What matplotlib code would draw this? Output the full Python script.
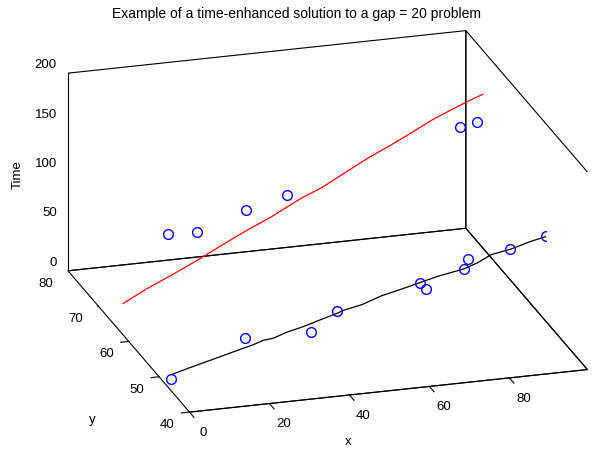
import matplotlib
matplotlib.use('Agg')
import matplotlib.pyplot as plt
from mpl_toolkits.mplot3d import proj3d

plt.rcParams['font.family'] = ['Liberation Sans', 'DejaVu Sans']
plt.rcParams['font.size'] = 9.5

# lower path (black) and its samples, sitting at y = 49
black_x = [2.5, 7.3, 12.0, 18.0, 22.5, 25.5, 27.8, 31.0, 35.5, 39.5, 43.5, 45.5, 50.0,
           55.0, 60.0, 64.8, 69.0, 75.5, 79.0, 82.3, 87.3, 92.0, 99.0]
black_y = [49.2, 49.0, 49.0, 49.1, 49.0, 49.2, 49.0, 49.0, 49.1, 49.0, 49.0, 49.1, 49.0,
           49.2, 49.0, 49.0, 49.1, 49.0, 49.0, 49.1, 49.0, 49.0, 49.0]
black_t = [4.0, 10.2, 15.0, 20.8, 25.8, 28.8, 30.5, 35.0, 38.8, 44.0, 48.6, 50.8, 55.0,
           61.0, 66.5, 71.3, 75.0, 80.1, 85.0, 91.1, 95.1, 100.5, 106.5]
pts_lo_x = [2.3, 20.8, 37.3, 43.8, 64.55, 66.05, 75.55, 76.55, 87.05, 96.05]
pts_lo_y = [49, 49, 49, 49, 49, 49, 49, 49, 49, 49]
pts_lo_t = [0.1, 33.9, 33.0, 51.5, 70.2, 63.5, 80.1, 89.4, 95.2, 104.5]

# time-enhanced path (red) and its samples, sitting at y = 70
red_x = [6.2, 12.0, 18.2, 25.2, 30.5, 36.4, 43.2, 50.7, 56.0, 62.0, 67.4, 73.0, 79.0,
         83.9, 88.0, 92.4, 96.2]
red_y = [70.0, 70.1, 70.0, 70.0, 70.1, 70.0, 70.0, 70.1, 70.0, 70.0, 70.1, 70.0, 70.0,
         70.1, 70.0, 70.0, 70.0]
red_t = [0.0, 11.5, 23.3, 36.5, 47.0, 59.2, 71.5, 86.6, 96.0, 109.0, 120.1, 131.0, 143.0,
         152.6, 160.0, 167.3, 172.8]
pts_hi_x = [17.44, 24.69, 36.94, 47.19, 90.44, 94.69]
pts_hi_y = [70, 70, 70, 70, 70, 70]
pts_hi_t = [65.1, 64.1, 81.2, 92.1, 141.8, 145.1]

xticks = [0, 20, 40, 60, 80]
yticks = [40, 50, 60, 70, 80]
zticks = [0, 50, 100, 150, 200]
XMIN, XMAX, YMIN, YMAX, ZMIN, ZMAX = 0, 99.5, 40, 80, 0, 200

fig = plt.figure(figsize=(5.94, 4.49), dpi=100)
ax = fig.add_axes([0.0414, -0.0065, 1, 1], projection='3d', proj_type='ortho')
ax.view_init(elev=20.65, azim=-106.87)
ax.set_box_aspect((1, 1.007, 0.508), zoom=1.355)

ax.plot(black_x, black_y, black_t, color='k', lw=0.9)
ax.plot(red_x, red_y, red_t, color='r', lw=0.9)
ax.plot(pts_lo_x, pts_lo_y, pts_lo_t, 'o', mfc='none', mec='b', ms=7, mew=1.0)
ax.plot(pts_hi_x, pts_hi_y, pts_hi_t, 'o', mfc='none', mec='b', ms=7, mew=1.0)

ax.set_xlim(XMIN, XMAX)
ax.set_ylim(YMIN, YMAX)
ax.set_zlim(ZMIN, ZMAX)
ax.set_xticks([])
ax.set_yticks([])
ax.set_zticks([])
ax.grid(False)

for axis in (ax.xaxis, ax.yaxis, ax.zaxis):
    axis.pane.fill = False
    axis.pane.set_edgecolor('k')
    axis.pane.set_alpha(1)
    axis.pane.set_linewidth(0.8)
    axis.line.set_color('k')
    axis.line.set_linewidth(0.8)

M = ax.get_proj()


def label_at(x, y, z, s, **kw):
    # project the 3d anchor once so the label is a plain 2d text
    px, py, _ = proj3d.proj_transform(x, y, z, M)
    ax.text2D(px, py, s, transform=ax.transData, **kw)


# matlab-style ticks: x ticks point to the front, y ticks to the left, z ticks to the back
tk = dict(color='k', lw=0.8)
for v in xticks:
    ax.plot([v, v], [YMIN, YMIN - 1.5], [ZMIN, ZMIN], **tk)
    label_at(v - 0.9, YMIN - 5.8, ZMIN, str(v), ha='center', va='center')
for v in yticks:
    ax.plot([XMIN, XMIN - 2.0], [v, v], [ZMIN, ZMIN], **tk)
    label_at(XMIN - 6.0, v - 2.96, ZMIN, str(v), ha='right', va='center')
for v in zticks:
    ax.plot([XMIN, XMIN], [YMAX, YMAX + 1.7], [v, v], **tk)
    label_at(XMIN - 0.96, YMAX + 2.37, v, str(v), ha='right', va='center')

fig.text(348 / 594, 1 - 442 / 449, 'x', ha='center', va='center')
fig.text(92 / 594, 1 - 420 / 449, 'y', ha='center', va='center')
fig.text(18 / 594, 1 - 175 / 449, 'Time', ha='center', va='center', rotation=90)
fig.text(0.5, 1 - 14 / 449, 'Example of a time-enhanced solution to a gap = 20 problem',
         ha='center', va='center', fontsize=10)

fig.savefig('out.png', dpi=100)
